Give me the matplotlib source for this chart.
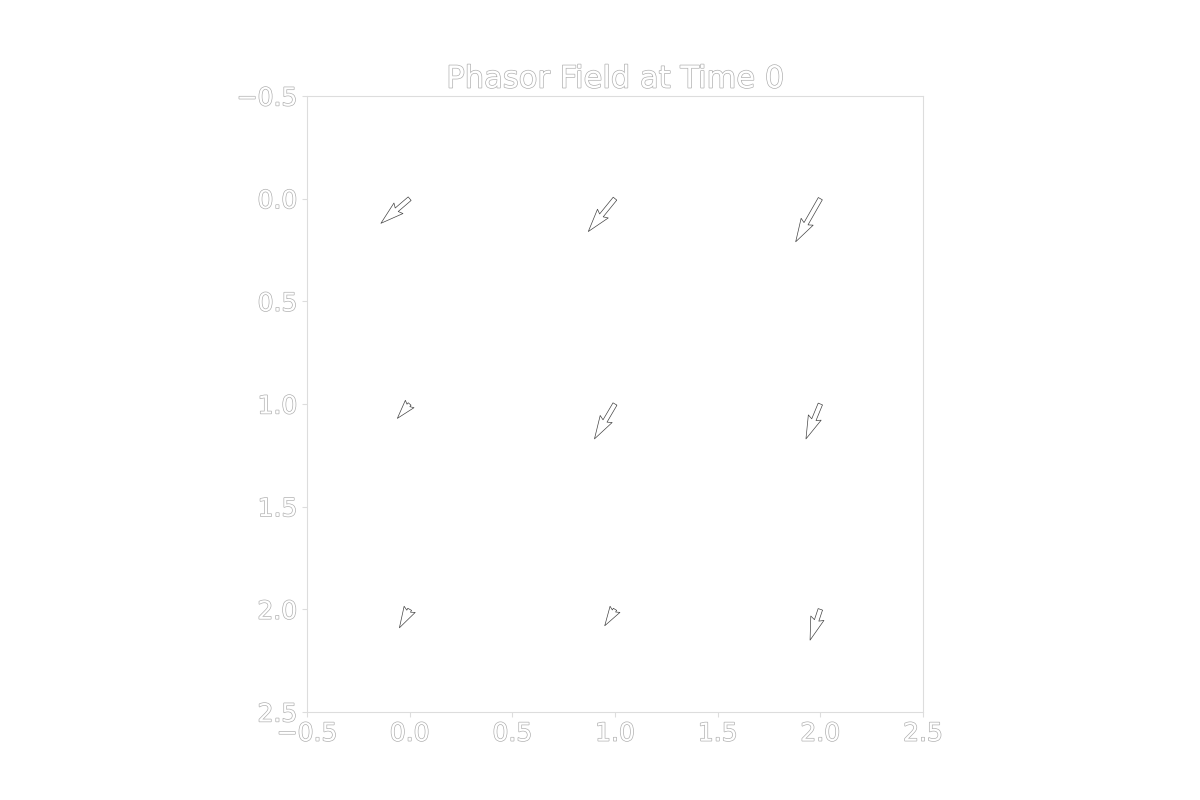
import numpy as np
import matplotlib.pyplot as plt
import matplotlib.patheffects as pe

plt.style.use('dark_background')

x = [0, 1, 2, 0, 1, 2, 0, 1, 2]
y = [0, 0, 0, 1, 1, 1, 2, 2, 2]
u = [-0.14, -0.13, -0.12, -0.06, -0.10, -0.07, -0.05, -0.05, -0.05]
v = [0.12, 0.16, 0.21, 0.07, 0.17, 0.17, 0.09, 0.08, 0.15]

outline = [pe.withStroke(linewidth=1.0, foreground='#b0b0b0')]

fig, ax = plt.subplots(figsize=(12, 8), dpi=100)
ax.quiver(x, y, u, v, angles='xy', scale_units='xy', scale=1,
          color='white', edgecolor='#444444', linewidth=0.5)
ax.set_xlim(-0.5, 2.5)
ax.set_ylim(2.5, -0.5)
ax.set_aspect('equal')
ax.set_xticks(np.arange(-0.5, 2.6, 0.5))
ax.set_yticks(np.arange(-0.5, 2.6, 0.5))
ax.tick_params(labelsize=18, color='#dddddd')
for s in ax.spines.values():
    s.set_edgecolor('#dddddd')
for lab in ax.get_xticklabels() + ax.get_yticklabels():
    lab.set_path_effects(outline)
t = ax.set_title("Phasor Field at Time 0", fontsize=22)
t.set_path_effects(outline)
fig.savefig('out.png', transparent=True)
